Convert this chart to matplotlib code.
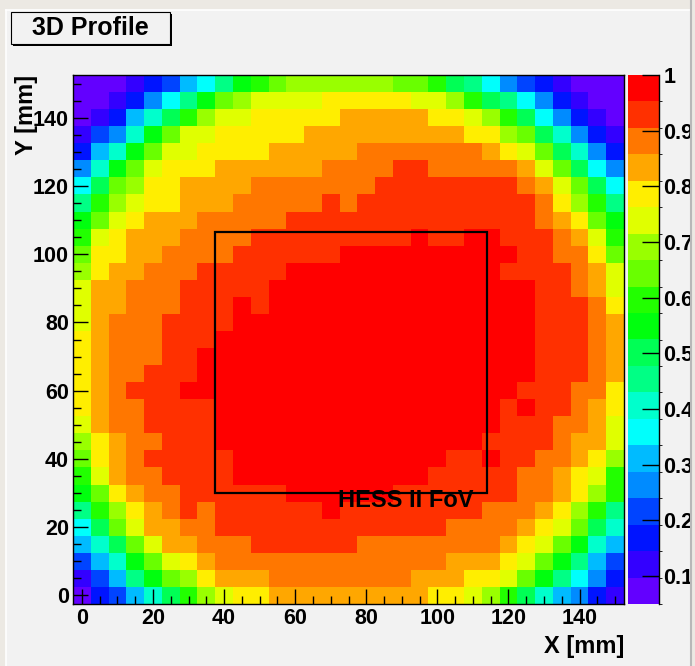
import matplotlib
matplotlib.use("Agg")
import matplotlib.pyplot as plt
import numpy as np
from matplotlib.colors import ListedColormap, BoundaryNorm
from matplotlib.patches import Rectangle
from matplotlib.lines import Line2D
from matplotlib.ticker import MultipleLocator

plt.rcParams['font.family'] = ['Liberation Sans', 'DejaVu Sans']
plt.rcParams['font.weight'] = 'bold'

# 5 mm bins, centres in mm
x_bins = [0, 5, 10, 15, 20, 25, 30, 35, 40, 45, 50, 55, 60, 65, 70, 75,
          80, 85, 90, 95, 100, 105, 110, 115, 120, 125, 130, 135, 140, 145, 150]
y_bins = list(x_bins)

# colour level of every bin (0..9, a..j = 10..19),
# one string per row, from the top row (y = 150) down to y = 0
rows_top_down = [
    "000123568abcddddddccb9864321000",
    "0012468acdeeeefffffeedb98642100",
    "012579bdeefffffgggggffedb964210",
    "1347aceefffffgggggggggffdc97421",
    "257aceeffffggggghhhhhhhgfec9742",
    "47acefffgggggghhhhiihhhhhgec964",
    "69cdffgggghhhhhhhiiiiiiiihgec96",
    "8bdeffggghhhhhihiiiiiiiiiihfdb8",
    "acefggghhhhhiiiiiiiiiiiiiihgfca",
    "befggghhhhiiiiiiiiijiijjiiihgeb",
    "cffgghhhhiiiiiijjjjjjjjjjiihhfc",
    "dfgghhhiiiiijjjjjjjjjjjjiiiihge",
    "egghhhiiiiijjjjjjjjjjjjjjjiihge",
    "egghhhiiijijjjjjjjjjjjjjjjiiihf",
    "eghhhiiiijjjjjjjjjjjjjjjjjiiihg",
    "fghhhiiijjjjjjjjjjjjjjjjjjiiihg",
    "fghhhiijjjjjjjjjjjjjjjjjjjiiihg",
    "fghhiiijjjjjjjjjjjjjjjjjjjiiihg",
    "fghiiijjjjjjjjjjjjjjjjjjjiiihhf",
    "fghhiiiijjjjjjjjjjjjjjjjijiihgf",
    "eghhiiiijjjjjjjjjjjjjjjjiiihhge",
    "dfghhiiijjjjjjjjjjjjjjjiiiihgge",
    "cfghiiiiijjjjjjjjjjjjiijiihhgfd",
    "beghhiiiijjjjjjjjjjjiiiiihhgfeb",
    "acfghhiiiiiijjjjjjiiiiiiihhgfdb",
    "8bdfghihiiiiiijiiiiiiiihhhgfdb8",
    "69cegghhiiiiiiiiiiiiihhhhgfec97",
    "579cegghhhiiiiiihhhhhhhhgfeca75",
    "357acefghhhhhhhhhhhhhgggfeca853",
    "1358acdfggghhhhhhhhgggffeca8642",
    "023579bdeffgggggggggffedb975421",
]

z_min, z_max, n_levels = 0.05, 1.0, 20
cbar_ticks = [0.1, 0.2, 0.3, 0.4, 0.5, 0.6, 0.7, 0.8, 0.9, 1.0]
cbar_labels = ['0.1', '0.2', '0.3', '0.4', '0.5', '0.6', '0.7', '0.8', '0.9', '1']
x_ticks = [0, 20, 40, 60, 80, 100, 120, 140]
y_ticks = [0, 20, 40, 60, 80, 100, 120, 140]

# ROOT "pretty" palette (violet -> red) as used for 20 contours
palette = ['#6300ff', '#3300ff', '#0014ff', '#0044ff', '#008bff',
           '#00bbff', '#00fffc', '#00ffcc', '#00ff85', '#00ff55',
           '#00ff0e', '#22ff00', '#69ff00', '#99ff00', '#e0ff00',
           '#ffee00', '#ffa700', '#ff7700', '#ff3000', '#ff0000']

# HESS II field of view box (mm)
fov_x0, fov_y0, fov_x1, fov_y1 = 37.5, 30.0, 114.0, 106.5

levels = np.array([[int(ch, 20) for ch in row] for row in rows_top_down[::-1]])
dz = (z_max - z_min) / n_levels
z = z_min + (levels + 0.5) * dz

xb = np.array(x_bins, float)
yb = np.array(y_bins, float)
x_edges = np.append(xb - 2.5, xb[-1] + 2.5)
y_edges = np.append(yb - 2.5, yb[-1] + 2.5)

W, H = 695, 666
fig = plt.figure(figsize=(W / 100, H / 100), dpi=100)
fig.patch.set_facecolor('#ece9e3')

# ROOT canvas area
fig.add_artist(Rectangle((6 / W, 0), (691 - 6) / W, 1 - 10 / H, transform=fig.transFigure,
                         facecolor='#f2f2f2', edgecolor='none', zorder=-10))
fig.add_artist(Line2D([6 / W, 6 / W], [0, 1 - 10 / H], transform=fig.transFigure,
                      color='white', lw=1.2, zorder=-9))
fig.add_artist(Line2D([6 / W, 691 / W], [1 - 10 / H, 1 - 10 / H], transform=fig.transFigure,
                      color='white', lw=1.2, zorder=-9))

ax = fig.add_axes([73 / W, 1 - 604 / H, 551 / W, 529 / H])
cax = fig.add_axes([628 / W, 1 - 604 / H, 31 / W, 529 / H])

cmap = ListedColormap(palette)
bounds = np.linspace(z_min, z_max, n_levels + 1)
norm = BoundaryNorm(bounds, cmap.N)

mesh = ax.pcolormesh(x_edges, y_edges, z, cmap=cmap, norm=norm,
                     shading='flat', edgecolors='none', antialiased=False)
ax.set_xlim(x_edges[0], x_edges[-1])
ax.set_ylim(y_edges[0], y_edges[-1])

ax.add_patch(Rectangle((fov_x0, fov_y0), fov_x1 - fov_x0, fov_y1 - fov_y0,
                       fill=False, edgecolor='black', lw=1.6, zorder=5))
ax.text(72.0, 25.9, 'HESS II FoV', fontsize=17, fontweight='bold',
        ha='left', va='baseline', zorder=6)

ax.set_xticks(x_ticks)
ax.set_yticks(y_ticks)
ax.xaxis.set_minor_locator(MultipleLocator(5))
ax.yaxis.set_minor_locator(MultipleLocator(5))
ax.tick_params(which='major', direction='in', length=10.5, width=1, labelsize=15.5,
               pad=3, top=False, right=False)
ax.tick_params(which='minor', direction='in', length=5.5, width=1, top=False, right=False)
for sp in ax.spines.values():
    sp.set_color('black')
    sp.set_linewidth(1)

cb = fig.colorbar(mesh, cax=cax, ticks=cbar_ticks)
cb.outline.set_visible(False)
cb.ax.set_yticklabels(cbar_labels)
cb.ax.tick_params(direction='in', length=12.5, width=1, labelsize=15.5, pad=3,
                  right=True, left=False)
cax.plot([1, 1], [0, 1], transform=cax.transAxes, color='black', lw=1, clip_on=False)

# axis titles
fig.text(624 / W, 1 - 646 / H, 'X [mm]', fontsize=17, fontweight='bold',
         ha='right', va='center')
fig.text(26 / W, 1 - 75 / H, 'Y [mm]', fontsize=17, fontweight='bold',
         ha='center', va='top', rotation=90)

# title pave with shadow
fig.add_artist(Rectangle((13 / W, 1 - 46 / H), 159 / W, 32 / H, transform=fig.transFigure,
                         facecolor='black', edgecolor='none', zorder=8))
fig.add_artist(Rectangle((11 / W, 1 - 44 / H), 159 / W, 32 / H, transform=fig.transFigure,
                         facecolor='#f2f2f2', edgecolor='black', lw=0.8, zorder=9))
fig.text(90.5 / W, 1 - 28 / H, '3D Profile', fontsize=18, fontweight='bold',
         ha='center', va='center', zorder=10)

# right border of the canvas (clips the colour-bar labels like the original)
fig.add_artist(Rectangle((691 / W, 0), 4 / W, 1, transform=fig.transFigure,
                         facecolor='#ece9e3', edgecolor='none', zorder=20))
fig.add_artist(Line2D([691 / W, 691 / W], [0, 1], transform=fig.transFigure,
                      color='#b8b8b8', lw=1.5, zorder=21))

fig.savefig('out.png', dpi=100, facecolor=fig.get_facecolor())
